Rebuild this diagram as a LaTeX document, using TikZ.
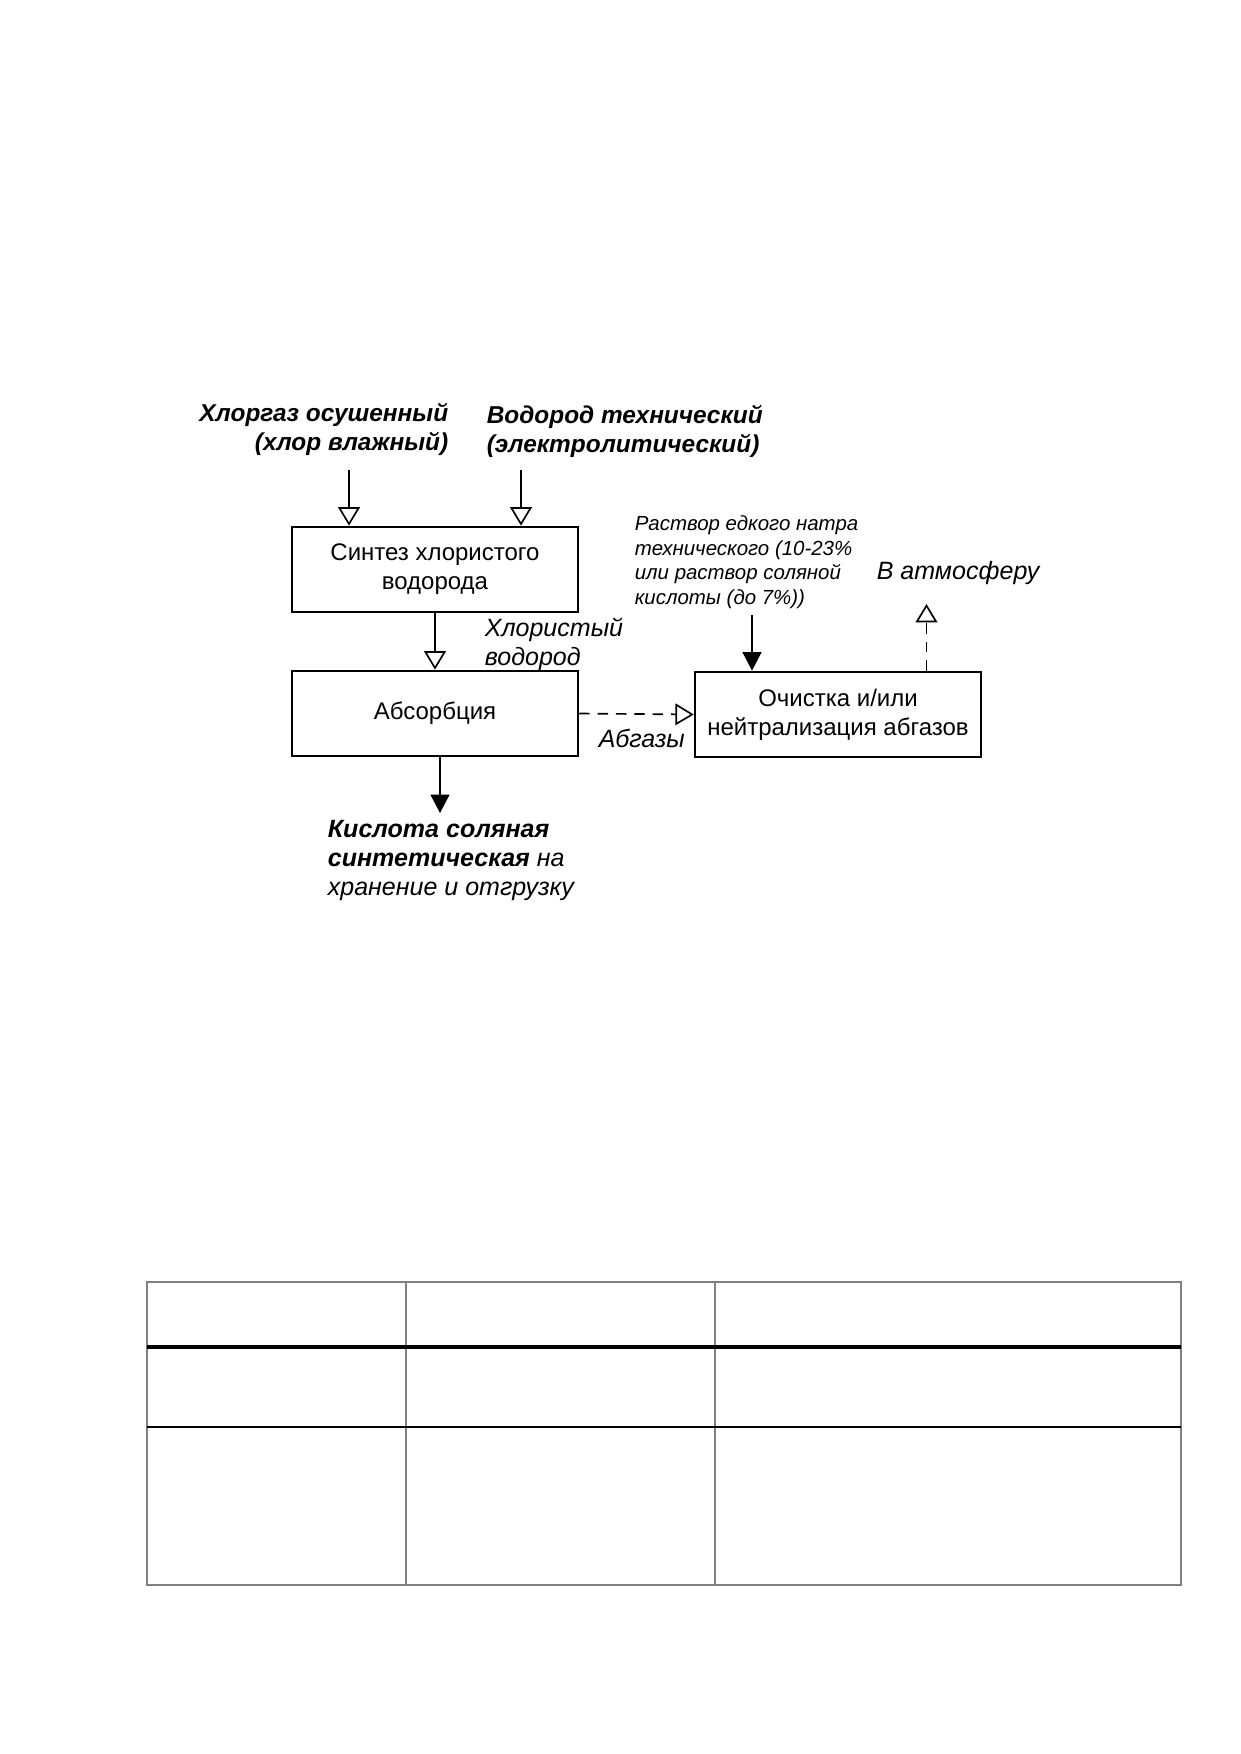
\documentclass[tikz,border=0pt]{standalone}
\usepackage{fontspec}
\setmainfont{Liberation Sans}
\usepackage{tikz}
\usetikzlibrary{arrows.meta}
\usetikzlibrary{calc, positioning}
\tikzstyle{proc}=[rectangle, draw, line width=1.3pt, minimum width=137pt, minimum height=40.8pt, align=center, inner sep=2pt, font=\fontsize{11.5pt}{14pt}\selectfont]
\tikzstyle{lbl}=[inner sep=0pt, font=\fontsize{12pt}{14pt}\selectfont\itshape]
\tikzstyle{boldlbl}=[inner sep=0pt, font=\fontsize{11.7pt}{14pt}\selectfont\bfseries\itshape]
\tikzstyle{smalllbl}=[inner sep=0pt, align=left, font=\fontsize{9.8pt}{11.8pt}\selectfont\itshape]

\begin{document}
\begin{tikzpicture}[x=0.4794pt, y=-0.4794pt]
\tikzset{every path/.style={line width=0.8pt}}
\tikzset{flow/.style={-{Triangle[open, length=8.8pt, width=10.4pt]}}}
\tikzset{feed/.style={-{Triangle[length=8.8pt, width=9pt]}}}
\tikzset{gas/.style={flow, dash pattern=on 5pt off 3.8pt}}

\useasboundingbox (0,0) rectangle (1241,1754);

% Boxes
\node[proc] (synth) at (435,569.5) {Синтез хлористого\\водорода};
\node[proc] (absorb) at (435,713.5) {Абсорбция};
\node[proc] (clean) at (838,714.5) {Очистка и/или\\нейтрализация абгазов};

% Labels
\node[boldlbl, align=right, anchor=north east] (chlorlbl) at (449,402) {Хлоргаз осушенный\\(хлор влажный)};
\node[boldlbl, align=left, anchor=north west] (hydrolbl) at (486,404) {Водород технический\\(электролитический)};
\node[smalllbl, anchor=north west] (sollbl) at (634,515) {Раствор едкого натра\\технического (10-23\%\\или раствор соляной\\кислоты (до 7\%))};
\node[lbl, anchor=north west] (atmlbl) at (876,561) {В атмосферу};
\node[lbl, align=left, anchor=north west] (hcllbl) at (484,617) {Хлористый\\водород};
\node[lbl, anchor=north west] (abglbl) at (598,728) {Абгазы};
\node[lbl, align=left, anchor=north west] (prodlbl) at (327,819) {\textbf{Кислота соляная}\\\textbf{синтетическая} на\\хранение и отгрузку};

% Arrows
\coordinate (chlorin) at (349,470);
\coordinate (hydroin) at (521,470);
\coordinate (solin) at (752,615);
\coordinate (prodout) at (440,813);
\coordinate (atmout) at (926.5,604);

\draw[flow] (chlorin) -- (chlorin |- synth.north);
\draw[flow] (hydroin) -- (hydroin |- synth.north);
\draw[flow] (synth.south) -- (absorb.north);
\draw[feed] (prodout |- absorb.south) -- (prodout);
\draw[gas] (absorb.east) -- (clean.west);
\draw[feed] (solin) -- (solin |- clean.north);
\draw[gas] (atmout |- clean.north) -- (atmout);

% Table
\draw[gray, line width=0.8pt] (147,1282) rectangle (1181,1585);
\draw[gray, line width=0.8pt] (406,1282) -- (406,1585);
\draw[gray, line width=0.8pt] (715,1282) -- (715,1585);
\draw[line width=2pt] (147,1347) -- (1181,1347);
\draw[line width=1pt] (147,1427) -- (1181,1427);

\end{tikzpicture}
\end{document}
